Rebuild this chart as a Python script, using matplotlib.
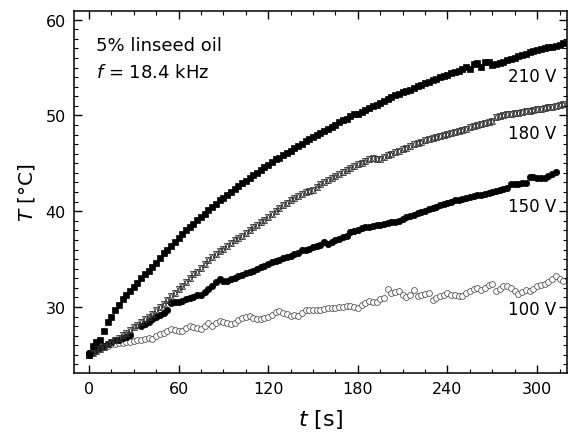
import numpy as np
import matplotlib
matplotlib.use("Agg")
import matplotlib.pyplot as plt
from matplotlib.ticker import MultipleLocator

# time axis (s), sampled every 2.5 s
t = np.arange(0, 320, 2.5)

T_210 = [25.0, 25.9, 26.3, 26.5, 27.5, 28.4, 28.9, 29.7, 30.2, 30.8,
         31.3, 31.7, 32.1, 32.5, 33.0, 33.4, 33.8, 34.2, 34.6, 35.1,
         35.6, 36.0, 36.4, 36.8, 37.2, 37.6, 38.0, 38.3, 38.7, 39.1,
         39.4, 39.7, 40.1, 40.4, 40.8, 41.2, 41.4, 41.7, 42.0, 42.3,
         42.6, 42.9, 43.2, 43.5, 43.8, 44.0, 44.3, 44.6, 44.8, 45.1,
         45.4, 45.6, 45.9, 46.1, 46.3, 46.6, 46.8, 47.0, 47.3, 47.5,
         47.8, 48.0, 48.2, 48.4, 48.6, 48.8, 49.0, 49.3, 49.5, 49.6,
         49.9, 50.1, 50.2, 50.4, 50.6, 50.8, 51.0, 51.1, 51.3, 51.5,
         51.7, 51.9, 52.1, 52.2, 52.4, 52.6, 52.7, 52.9, 53.1, 53.2,
         53.4, 53.5, 53.7, 53.8, 54.0, 54.1, 54.2, 54.4, 54.5, 54.6,
         54.8, 55.1, 54.9, 55.4, 55.5, 55.1, 55.6, 55.6, 55.3, 55.4,
         55.5, 55.6, 55.8, 55.9, 56.0, 56.2, 56.3, 56.4, 56.6, 56.7,
         56.8, 56.9, 57.0, 57.1, 57.2, 57.3, 57.4, 57.6]

T_180 = [25.0, 25.2, 25.4, 25.6, 25.8, 26.1, 26.3, 26.6, 26.8, 27.1,
         27.3, 27.6, 27.9, 28.1, 28.4, 28.7, 29.0, 29.3, 29.7, 30.0,
         30.3, 30.7, 31.1, 31.5, 31.9, 32.2, 32.6, 33.0, 33.4, 33.7,
         34.1, 34.5, 34.9, 35.2, 35.5, 35.8, 36.1, 36.4, 36.7, 37.0,
         37.2, 37.4, 37.7, 38.0, 38.3, 38.6, 38.9, 39.1, 39.4, 39.7,
         40.0, 40.3, 40.6, 40.9, 41.2, 41.4, 41.6, 41.8, 42.0, 42.1,
         42.2, 42.5, 42.8, 43.1, 43.3, 43.5, 43.7, 43.9, 44.1, 44.3,
         44.5, 44.7, 44.9, 45.0, 45.2, 45.4, 45.6, 45.4, 45.5, 45.7,
         45.9, 46.0, 46.2, 46.3, 46.5, 46.6, 46.8, 47.0, 47.1, 47.2,
         47.4, 47.5, 47.6, 47.7, 47.9, 48.0, 48.1, 48.2, 48.3, 48.4,
         48.5, 48.6, 48.8, 48.9, 49.0, 49.1, 49.2, 49.3, 49.4, 49.8,
         49.9, 50.0, 50.1, 50.2, 50.3, 50.3, 50.4, 50.5, 50.5, 50.6,
         50.7, 50.7, 50.8, 50.9, 50.9, 51.0, 51.1, 51.2]

T_150 = [25.2, 25.3, 25.5, 25.7, 25.9, 26.1, 26.3, 26.5, 26.6, 26.8,
         26.9, 27.1, np.nan, np.nan, 28.0, 28.2, 28.4, 28.7, 28.9, 29.2,
         29.4, 29.7, 30.4, 30.5, 30.5, 30.6, 30.8, 30.9, 31.0, 31.2,
         31.3, 31.6, 31.9, 32.2, 32.6, 32.9, 32.7, 32.7, 32.9, 33.0,
         33.2, 33.3, 33.5, 33.6, 33.8, 34.0, 34.2, 34.3, 34.5, 34.7,
         34.8, 34.9, 35.1, 35.2, 35.3, 35.5, 35.6, 35.9, 36.0, 36.1,
         36.3, 36.4, 36.5, 36.8, 36.6, 36.8, 37.0, 37.1, 37.3, 37.4,
         37.8, 37.9, 38.0, 38.2, 38.3, 38.4, 38.5, 38.6, 38.6, 38.7,
         38.8, 38.9, 38.9, 39.0, 39.2, 39.4, 39.5, 39.6, 39.8, 39.9,
         40.0, 40.2, 40.3, 40.4, 40.6, 40.7, 40.9, 41.0, 41.2, 41.2,
         41.3, 41.4, 41.5, 41.6, 41.7, 41.7, 41.8, 41.9, 42.0, 42.1,
         42.2, 42.3, 42.4, 42.8, 42.8, 42.8, 42.9, 42.9, 43.6, 43.6,
         43.5, 43.5, 43.5, 43.7, 43.9, 44.1, np.nan, np.nan]

T_100 = [25.2, 25.4, 25.6, 25.8, 25.8, 25.9, 26.1, 26.1, 26.2, 26.2,
         26.3, 26.3, 26.4, 26.5, 26.6, 26.7, 26.8, 26.7, 27.0, 27.2,
         27.3, 27.5, 27.7, 27.6, 27.5, 27.5, 27.8, 28.0, 27.9, 27.8,
         27.7, 28.0, 28.3, 28.0, 28.3, 28.5, 28.4, 28.3, 28.2, 28.3,
         28.6, 28.8, 28.9, 29.1, 28.8, 28.7, 28.7, 28.8, 28.9, 29.2,
         29.5, 29.6, 29.4, 29.3, 29.1, 29.2, 29.1, 29.4, 29.7, 29.7,
         29.7, 29.7, 29.7, 29.8, 29.9, 29.9, 29.9, 30.0, 30.0, 30.1,
         30.1, 30.0, 29.9, 30.2, 30.4, 30.6, 30.5, 30.5, 30.8, 30.9,
         31.9, 31.5, 31.6, 31.7, 31.2, 31.0, 31.3, 31.8, 31.1, 31.3,
         31.4, 31.5, 30.7, 30.9, 31.1, 31.2, 31.5, 31.3, 31.2, 31.1,
         31.1, 31.5, 31.7, 31.9, 32.0, 31.8, 32.0, 32.3, 32.4, 31.7,
         31.9, 32.2, 32.2, 32.0, 31.7, 31.4, 31.6, 31.8, 31.7, 31.9,
         32.2, 32.3, 32.4, 32.6, 32.9, 33.2, 32.9, 32.7]

labels = ["210 V", "180 V", "150 V", "100 V"]
label_y = [54.1, 48.2, 40.5, 29.8]

fig = plt.figure(figsize=(5.70, 4.39), dpi=100)
ax = fig.add_axes([0.1298, 0.148, 0.8649, 0.8245])

ax.plot(t, T_100, linestyle="none", marker="o", ms=4.2, mfc="white",
        mec="#555555", mew=0.6, zorder=2)
ax.plot(t, T_150, linestyle="none", marker="o", ms=4.6, mfc="black",
        mec="black", mew=0.5, zorder=3)
ax.plot(t, T_180, linestyle="none", marker="^", ms=5.0, mfc="none",
        mec="#333333", mew=0.6, zorder=3)
ax.plot(t, T_180, linestyle="none", marker="v", ms=5.0, mfc="none",
        mec="#333333", mew=0.6, zorder=3)
ax.plot(t, T_210, linestyle="none", marker="s", ms=4.3, mfc="black",
        mec="black", mew=0.5, zorder=4)

ax.set_xlim(-10, 320)
ax.set_ylim(23.1, 60.9)
ax.xaxis.set_major_locator(MultipleLocator(60))
ax.xaxis.set_minor_locator(MultipleLocator(15))
ax.yaxis.set_major_locator(MultipleLocator(10))
ax.yaxis.set_minor_locator(MultipleLocator(1))
ax.tick_params(which="both", direction="in", top=True, right=True,
               labeltop=False, labelright=False)
ax.tick_params(which="major", length=6, width=1.0, labelsize=11.5, pad=6)
ax.tick_params(which="minor", length=3, width=0.8)
for s in ax.spines.values():
    s.set_linewidth(1.1)

ax.set_xlabel(r"$\mathit{t}$ [s]", fontsize=16, labelpad=8)
ax.set_ylabel(r"$\mathit{T}$ [°C]", fontsize=14.5, labelpad=6)

for lab, yv in zip(labels, label_y):
    ax.text(313, yv, lab, ha="right", va="center", fontsize=12)

ax.text(5, 57.4, "5% linseed oil", ha="left", va="center", fontsize=13)
ax.text(5, 54.5, r"$\mathit{f}$ = 18.4 kHz", ha="left", va="center", fontsize=13)

fig.savefig("out.png", dpi=100)
